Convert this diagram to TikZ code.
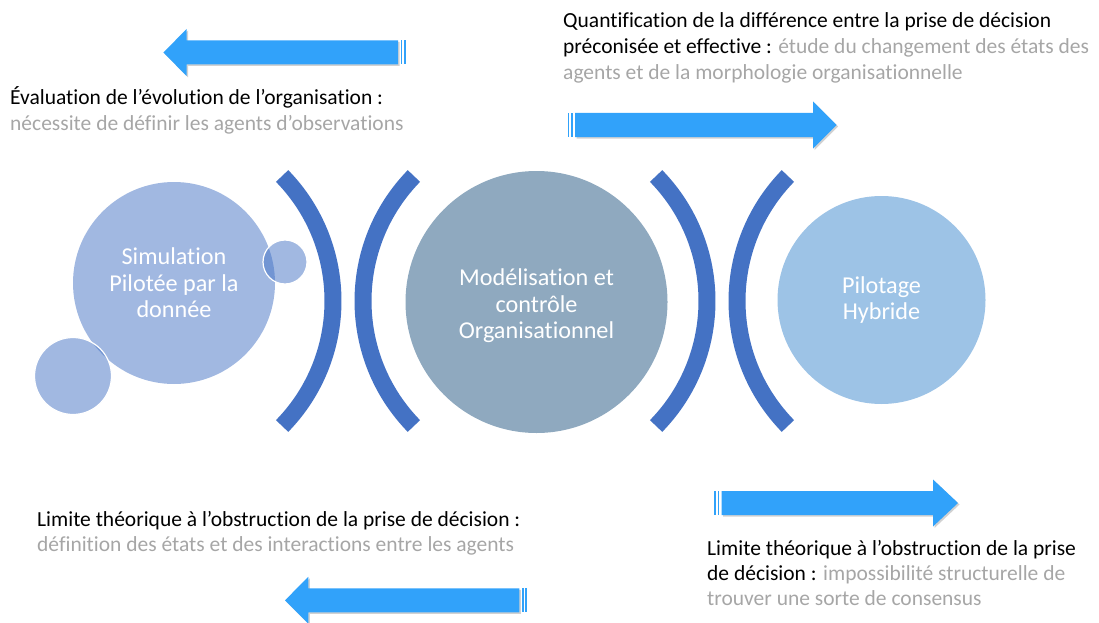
\documentclass[tikz,border=0pt]{standalone}
\usepackage{fontspec}
\setmainfont{Carlito}[Ligatures={NoCommon}]
\definecolor{arrowc}{HTML}{31A2FA}
\definecolor{arcc}{HTML}{4472C4}
\definecolor{centerc}{HTML}{8FA9BF}
\definecolor{rightc}{HTML}{9DC3E6}
\definecolor{greytext}{HTML}{A6A6A6}
\newcommand{\myblockarrow}[5]{% #1 tail x, #2 head base x, #3 tip x, #4 centre y, #5 direction (+1 right, -1 left)
  \fill[black, opacity=0.18] (#1+1.5,#4-10.5) -- (#2+1.5,#4-10.5) -- (#2+1.5,#4-22) -- (#3+1.5,#4+1.5) -- (#2+1.5,#4+25) -- (#2+1.5,#4+13.5) -- (#1+1.5,#4+13.5) -- cycle;
  \fill[arrowc] (#1,#4-12) -- (#2,#4-12) -- (#2,#4-23.5) -- (#3,#4) -- (#2,#4+23.5) -- (#2,#4+12) -- (#1,#4+12) -- cycle;
  \fill[arrowc] (#1-#5*2.5,#4-12) rectangle (#1-#5*4.2,#4+12);
  \fill[arrowc] (#1-#5*5.8,#4-12) rectangle (#1-#5*7.5,#4+12);
}
\begin{document}
\begin{tikzpicture}[x=1pt,y=-1pt,
  bubble/.style={circle, inner sep=0pt, text=white, align=center,
    font=\fontsize{24.2}{26.5}\selectfont},
  small/.style={circle, inner sep=0pt, fill=arcc, fill opacity=0.5, draw=white, line width=1.2pt},
  ring/.style={draw=arcc, line width=17pt},
  label/.style={anchor=base west, inner sep=0pt, align=left,
    font=\fontsize{21.5}{25}\selectfont}
]
\useasboundingbox (0,0) rectangle (1099,623);

% circles
\node[bubble, minimum size=202pt, fill=arcc, fill opacity=0.5, text opacity=1] (sim) at (174,283)
  {Simulation\\Pilotée par la\\donnée};
\node[small, minimum size=44pt] (s1) at (285,262) {};
\node[small, minimum size=77pt] (s2) at (73,376) {};
\node[bubble, minimum size=262pt, fill=centerc] (mod) at (536.5,302) {};
\node[bubble] (modt) at (536.5,306)
  {Modélisation et\\contrôle\\Organisationnel};
\node[bubble, minimum size=208pt, fill=rightc] (pil) at (881.5,300)
  {Pilotage\\Hybride};

% arcs
\coordinate (c1) at (154,301);
\coordinate (c2) at (542,301);
\coordinate (c3) at (528,301);
\coordinate (c4) at (916,301);
\draw[ring] (c1) ++(-44.3:179) arc[start angle=-44.3, end angle=44.3, radius=179];
\draw[ring] (c2) ++(135.7:179) arc[start angle=135.7, end angle=224.3, radius=179];
\draw[ring] (c3) ++(-44.3:179) arc[start angle=-44.3, end angle=44.3, radius=179];
\draw[ring] (c4) ++(135.7:179) arc[start angle=135.7, end angle=224.3, radius=179];

% arrows
\myblockarrow{398}{186.7}{163.3}{52.5}{-1}
\myblockarrow{575}{813}{836.7}{125}{1}
\myblockarrow{721.7}{933}{958}{503}{1}
\myblockarrow{519.3}{308.3}{285}{600.3}{-1}

% texts (anchor = baseline of the last line)
\node[label] (t1) at (10,130)
  {Évaluation de l’évolution de l’organisation :\\
   \color{greytext}nécessite de définir les agents d’observations};
\node[label, font=\fontsize{21.5}{26}\selectfont] (t2) at (563,80)
  {Quantification de la différence entre la prise de décision\\
   préconisée et effective : {\color{greytext}étude du changement des états des}\\
   {\color{greytext}agents et de la morphologie organisationnelle}};
\node[label] (t3) at (37,551)
  {Limite théorique à l’obstruction de la prise de décision :\\
   \color{greytext}définition des états et des interactions entre les agents};
\node[label] (t4) at (707,605)
  {Limite théorique à l’obstruction de la prise\\
   de décision : {\color{greytext}impossibilité structurelle de}\\
   {\color{greytext}trouver une sorte de consensus}};
\end{tikzpicture}
\end{document}
